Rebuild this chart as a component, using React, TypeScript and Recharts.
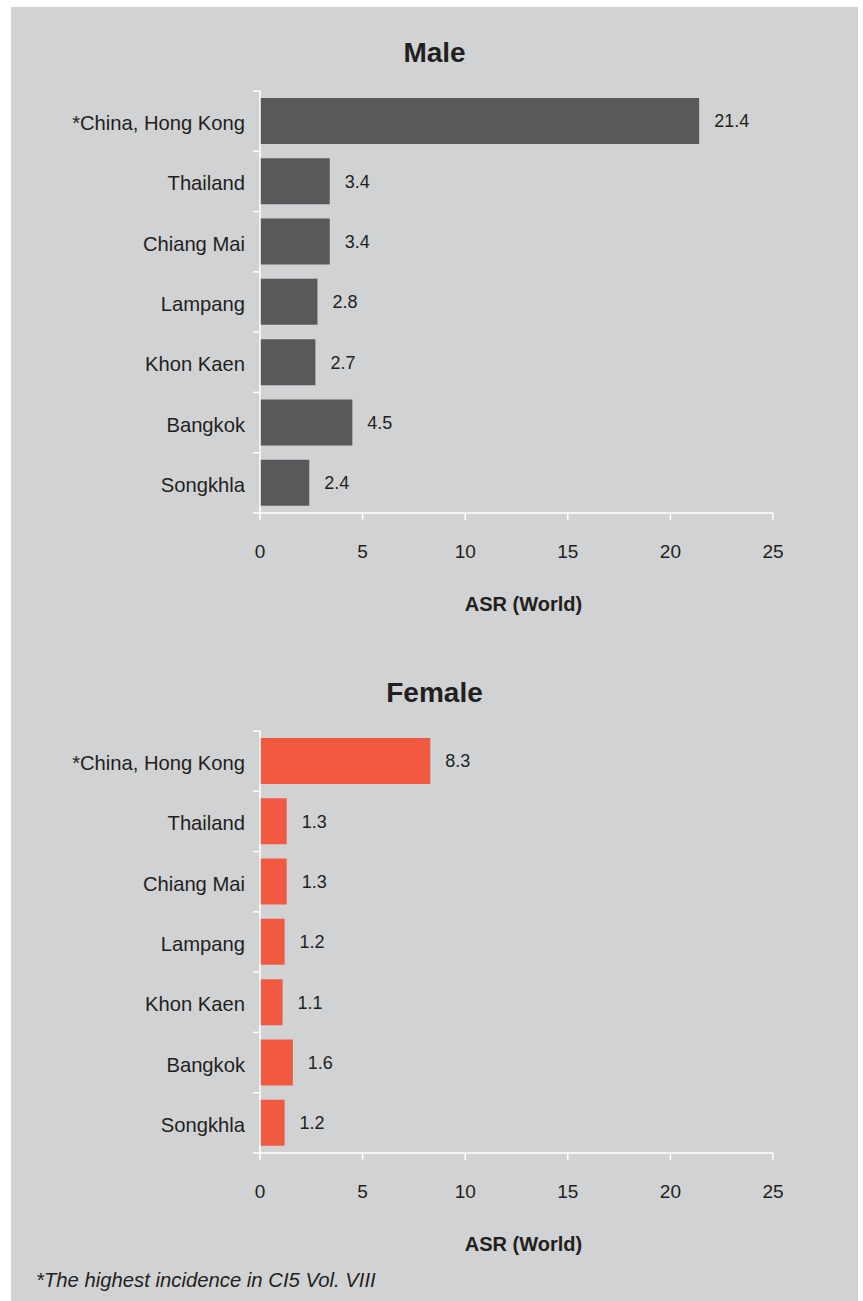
import { BarChart, Bar, XAxis, YAxis, LabelList } from "recharts";

const places = ["*China, Hong Kong", "Thailand", "Chiang Mai", "Lampang", "Khon Kaen", "Bangkok", "Songkhla"];
const maleAsr = [21.4, 3.4, 3.4, 2.8, 2.7, 4.5, 2.4];
const femaleAsr = [8.3, 1.3, 1.3, 1.2, 1.1, 1.6, 1.2];
const asrTicks = [0, 5, 10, 15, 20, 25];

const font = "'Liberation Sans', Arial, Helvetica, sans-serif";
const ink = "#231f20";

const PlaceTick = (props: any) => {
  const { x, y, payload, index } = props;
  const half = payload?.offset ?? 30;
  const last = index === places.length - 1 || payload?.value === places[places.length - 1];
  return (
    <g>
      <line x1={x - 7} x2={x} y1={y - half} y2={y - half} stroke="#fff" strokeWidth={1.5} />
      {last && <line x1={x - 7} x2={x} y1={y + half} y2={y + half} stroke="#fff" strokeWidth={1.5} />}
      <text x={x - 15} y={y + 2} textAnchor="end" dominantBaseline="central" fontSize={20.2} fill={ink} fontFamily={font}>
        {payload.value}
      </text>
    </g>
  );
};

const SexChart = ({ title, values, color, top }: { title: string; values: number[]; color: string; top: number }) => {
  const data = places.map((place, i) => ({ place, asr: values[i] }));
  return (
    <div style={{ position: "absolute", left: 0, top, width: 847, height: 620 }}>
      <div
        style={{
          position: "absolute",
          left: 0,
          top: 32,
          width: 847,
          textAlign: "center",
          fontSize: 28,
          fontWeight: "bold",
          lineHeight: "28px",
          color: ink,
          fontFamily: font,
        }}
      >
        {title}
      </div>
      <BarChart
        width={847}
        height={620}
        data={data}
        layout="vertical"
        margin={{ top: 84, right: 85, bottom: 0, left: 0 }}
        barSize={46}
      >
        <XAxis
          type="number"
          domain={[0, 25]}
          ticks={asrTicks}
          height={114}
          axisLine={{ stroke: "#fff", strokeWidth: 1.5 }}
          tickLine={{ stroke: "#fff", strokeWidth: 1.5 }}
          tickSize={7}
          tickMargin={25}
          tick={{ fontSize: 19, fill: ink, fontFamily: font }}
          label={{
            value: "ASR (World)",
            position: "insideBottom",
            offset: 16,
            dx: 7,
            style: { fontSize: 20, fontWeight: "bold", fill: ink, fontFamily: font },
          }}
        />
        <YAxis
          type="category"
          dataKey="place"
          width={249}
          axisLine={{ stroke: "#fff", strokeWidth: 1.5 }}
          tickLine={false}
          tickSize={0}
          tickMargin={0}
          tick={<PlaceTick />}
          interval={0}
        />
        <Bar dataKey="asr" fill={color} isAnimationActive={false}>
          <LabelList
            dataKey="asr"
            position="right"
            offset={15}
            style={{ fontSize: 18, fill: ink, fontFamily: font }}
          />
        </Bar>
      </BarChart>
    </div>
  );
};

export default function App() {
  return (
    <div
      style={{
        position: "absolute",
        left: 11,
        top: 7,
        width: 847,
        height: 1294,
        background: "#d1d2d4",
        fontFamily: font,
      }}
    >
      <SexChart title="Male" values={maleAsr} color="#58595b" top={0} />
      <SexChart title="Female" values={femaleAsr} color="#f15a40" top={640} />
      <div
        style={{
          position: "absolute",
          left: 25,
          top: 1263,
          fontSize: 20.3,
          lineHeight: "20px",
          fontStyle: "italic",
          color: ink,
        }}
      >
        *The highest incidence in CI5 Vol. VIII
      </div>
    </div>
  );
}
